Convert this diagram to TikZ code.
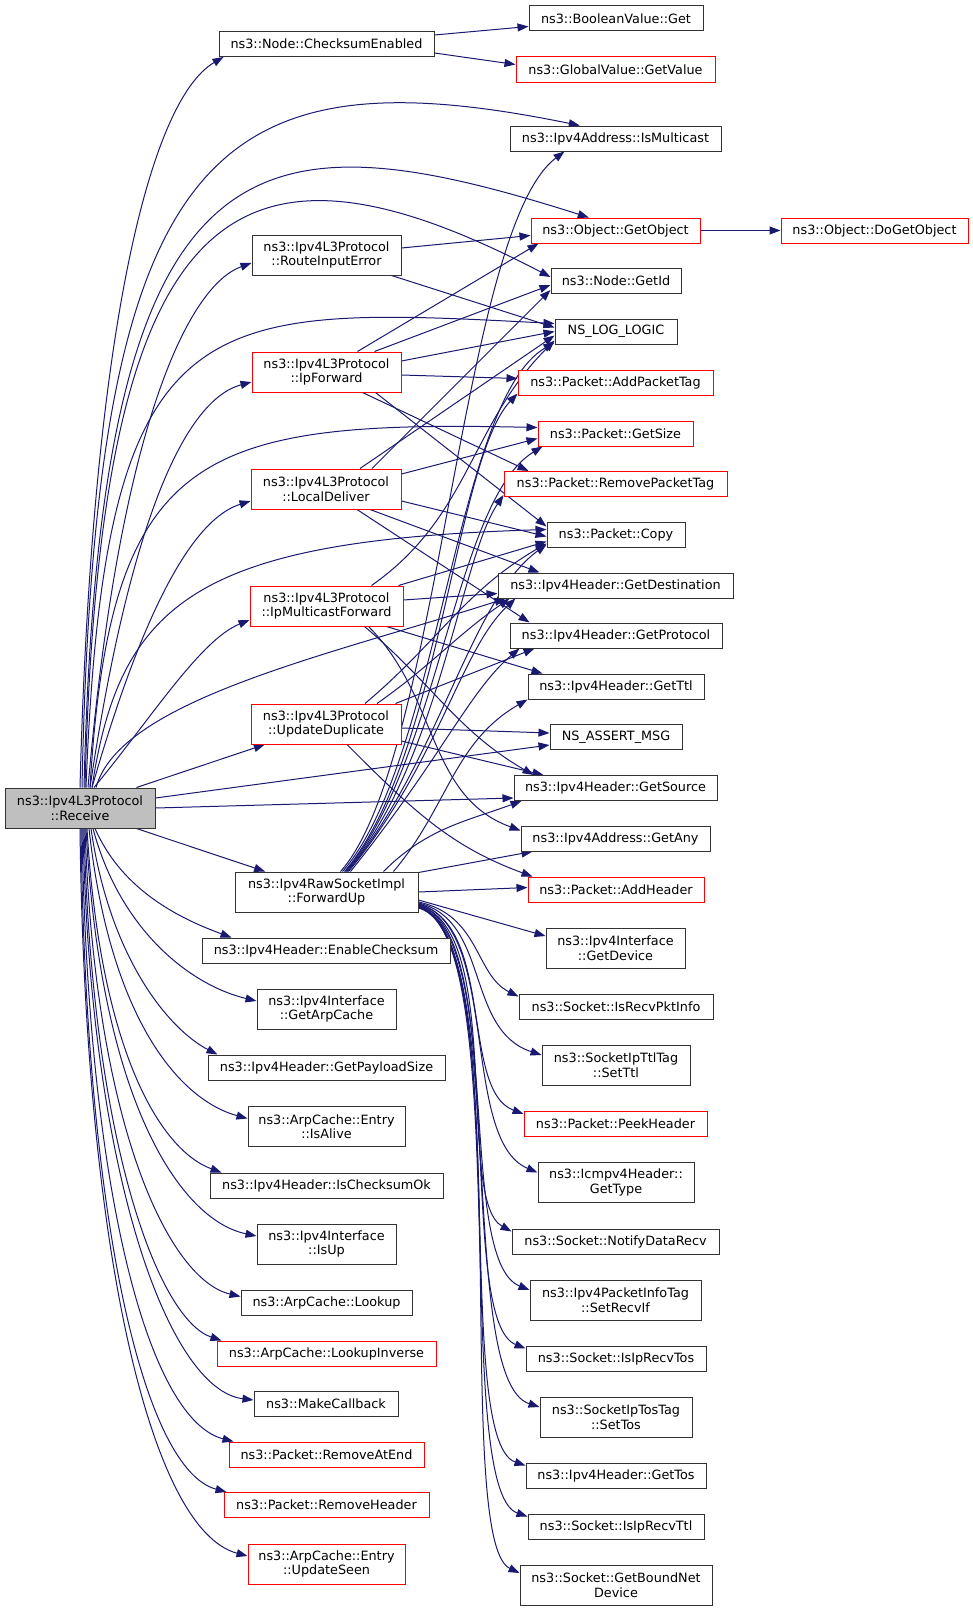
\documentclass[tikz,border=0pt]{standalone}
\usepackage{fontspec}
\setmainfont{DejaVu Sans}
\usetikzlibrary{arrows.meta, backgrounds}

\definecolor{callblue}{RGB}{25,25,112}

\tikzset{
	fn/.style={draw=black!80, line width=1pt, fill=white, align=center, inner sep=0pt, minimum height=25pt, font=\fontsize{12.8}{14.5}\selectfont},
	fnred/.style={fn, draw=red},
	fnroot/.style={fn, fill=black!25},
	tall/.style={minimum height=40pt},
	calls/.style={draw=callblue, line width=1pt, -{Triangle[length=11pt, width=8pt]}}
}

\begin{document}
\begin{tikzpicture}[x=1pt, y=-1pt]

	\useasboundingbox (0,0) rectangle (973,1611);

	\node[fnroot, tall, minimum width=150pt] (rcv) at (80,808) {ns3::Ipv4L3Protocol\\::Receive};

	\node[fn, minimum width=215pt] (cse) at (326.5,44) {ns3::Node::ChecksumEnabled};
	\node[fn, tall, minimum width=149pt] (rie) at (326.5,255) {ns3::Ipv4L3Protocol\\::RouteInputError};
	\node[fnred, tall, minimum width=149pt] (ipf) at (326.5,372) {ns3::Ipv4L3Protocol\\::IpForward};
	\node[fnred, tall, minimum width=150pt] (ldl) at (326,489) {ns3::Ipv4L3Protocol\\::LocalDeliver};
	\node[fnred, tall, minimum width=153pt] (imf) at (326.5,606) {ns3::Ipv4L3Protocol\\::IpMulticastForward};
	\node[fnred, tall, minimum width=150pt] (upd) at (326,724) {ns3::Ipv4L3Protocol\\::UpdateDuplicate};
	\node[fn, tall, minimum width=183pt] (fwu) at (326.5,892) {ns3::Ipv4RawSocketImpl\\::ForwardUp};
	\node[fn, minimum width=248pt] (ecs) at (326,950.5) {ns3::Ipv4Header::EnableChecksum};
	\node[fn, tall, minimum width=139pt] (gac) at (326.5,1009) {ns3::Ipv4Interface\\::GetArpCache};
	\node[fn, minimum width=237pt] (gps) at (326.5,1067.5) {ns3::Ipv4Header::GetPayloadSize};
	\node[fn, tall, minimum width=157pt] (ial) at (326.5,1126.5) {ns3::ArpCache::Entry\\::IsAlive};
	\node[fn, minimum width=233pt] (ico) at (326.5,1185.5) {ns3::Ipv4Header::IsChecksumOk};
	\node[fn, tall, minimum width=139pt] (iup) at (326.5,1244) {ns3::Ipv4Interface\\::IsUp};
	\node[fn, minimum width=171pt] (lku) at (326.5,1302.5) {ns3::ArpCache::Lookup};
	\node[fnred, minimum width=219pt] (lki) at (326.5,1353.5) {ns3::ArpCache::LookupInverse};
	\node[fn, minimum width=144pt] (mcb) at (326,1404) {ns3::MakeCallback};
	\node[fnred, minimum width=195pt] (rae) at (326.5,1454.5) {ns3::Packet::RemoveAtEnd};
	\node[fnred, minimum width=205pt] (rhd) at (326.5,1505) {ns3::Packet::RemoveHeader};
	\node[fnred, tall, minimum width=157pt] (ups) at (326.5,1564) {ns3::ArpCache::Entry\\::UpdateSeen};

	\node[fn, minimum width=174pt] (bvg) at (616,18.5) {ns3::BooleanValue::Get};
	\node[fnred, minimum width=199pt] (gvv) at (615.5,69.5) {ns3::GlobalValue::GetValue};
	\node[fn, minimum width=211pt] (ism) at (615.5,138.5) {ns3::Ipv4Address::IsMulticast};
	\node[fnred, minimum width=169pt] (gob) at (615.5,230.5) {ns3::Object::GetObject};
	\node[fnred, minimum width=187pt] (dgo) at (874.5,230.5) {ns3::Object::DoGetObject};
	\node[fn, minimum width=130pt] (gid) at (616,281) {ns3::Node::GetId};
	\node[fn, minimum width=122pt] (nll) at (616,331.5) {NS\_LOG\_LOGIC};
	\node[fnred, minimum width=195pt] (apt) at (615.5,382.5) {ns3::Packet::AddPacketTag};
	\node[fnred, minimum width=155pt] (gsz) at (615.5,433.5) {ns3::Packet::GetSize};
	\node[fnred, minimum width=223pt] (rpt) at (615.5,484) {ns3::Packet::RemovePacketTag};
	\node[fn, minimum width=138pt] (cpy) at (616,534.5) {ns3::Packet::Copy};
	\node[fn, minimum width=235pt] (gds) at (615.5,585.5) {ns3::Ipv4Header::GetDestination};
	\node[fn, minimum width=212pt] (gpr) at (616,635.5) {ns3::Ipv4Header::GetProtocol};
	\node[fn, minimum width=176pt] (gtl) at (616,686.5) {ns3::Ipv4Header::GetTtl};
	\node[fn, minimum width=132pt] (asm) at (616,737) {NS\_ASSERT\_MSG};
	\node[fn, minimum width=203pt] (gsr) at (615.5,788) {ns3::Ipv4Header::GetSource};
	\node[fn, minimum width=189pt] (gan) at (615.5,838.5) {ns3::Ipv4Address::GetAny};
	\node[fnred, minimum width=176pt] (ahd) at (616,889.5) {ns3::Packet::AddHeader};
	\node[fn, tall, minimum width=139pt] (gdv) at (615.5,948) {ns3::Ipv4Interface\\::GetDevice};
	\node[fn, minimum width=194pt] (irp) at (616,1006.5) {ns3::Socket::IsRecvPktInfo};
	\node[fn, tall, minimum width=148pt] (stl) at (616,1065) {ns3::SocketIpTtlTag\\::SetTtl};
	\node[fnred, minimum width=183pt] (phd) at (615.5,1124) {ns3::Packet::PeekHeader};
	\node[fn, tall, minimum width=156pt] (gty) at (616,1182.5) {ns3::Icmpv4Header::\\GetType};
	\node[fn, minimum width=207pt] (ndr) at (615.5,1241.5) {ns3::Socket::NotifyDataRecv};
	\node[fn, tall, minimum width=171pt] (sri) at (615.5,1300) {ns3::Ipv4PacketInfoTag\\::SetRecvIf};
	\node[fn, minimum width=180pt] (irt) at (616,1358.5) {ns3::Socket::IsIpRecvTos};
	\node[fn, tall, minimum width=152pt] (sts) at (616,1417) {ns3::SocketIpTosTag\\::SetTos};
	\node[fn, minimum width=180pt] (gts) at (616,1475.5) {ns3::Ipv4Header::GetTos};
	\node[fn, minimum width=176pt] (irl) at (616,1526.5) {ns3::Socket::IsIpRecvTtl};
	\node[fn, tall, minimum width=192pt] (gbn) at (616,1585) {ns3::Socket::GetBoundNet\\Device};

	\begin{scope}[on background layer]

	\draw[calls] (rcv.north) .. controls (92,330) and (150,100) .. ([xshift=5pt]cse.south west);
	\draw[calls] ([xshift=2pt]rcv.north) .. controls (95,150) and (210,50) .. (ism.160);
	\draw[calls] ([xshift=4pt]rcv.north) .. controls (100,130) and (250,110) .. (gob.154);
	\draw[calls] ([xshift=5pt]rcv.north) .. controls (100,200) and (230,110) .. ([yshift=4pt]gid.west);
	\draw[calls] ([xshift=6pt]rcv.north) .. controls (105,300) and (200,305) .. ([yshift=8pt]nll.west);
	\draw[calls] ([xshift=8pt]rcv.north) .. controls (120,420) and (190,285) .. ([yshift=-8pt]rie.west);
	\draw[calls] ([xshift=10pt]rcv.north) .. controls (130,520) and (185,400) .. ([yshift=-10pt]ipf.west);
	\draw[calls] ([xshift=10pt]rcv.north) .. controls (110,450) and (200,420) .. ([yshift=6pt]gsz.west);
	\draw[calls] ([xshift=12pt]rcv.north) .. controls (140,620) and (190,520) .. ([yshift=-12pt]ldl.west);
	\draw[calls] ([xshift=12pt]rcv.north) .. controls (120,600) and (200,540) .. ([yshift=5pt]cpy.west);
	\draw[calls] ([xshift=14pt]rcv.north) .. controls (150,720) and (200,640) .. ([yshift=-14pt]imf.west);
	\draw[calls] ([xshift=16pt]rcv.north) .. controls (120,700) and (330,655) .. ([xshift=8pt]gds.south west);
	\draw[calls] ([xshift=-19pt]rcv.north east) -- (upd);
	\draw[calls] ([yshift=10pt]rcv.east) -- ([yshift=-8pt]asm.west);
	\draw[calls] (rcv.east) -- ([yshift=-10pt]gsr.west);
	\draw[calls] ([xshift=-19pt]rcv.south east) -- (fwu);

	\draw[calls] ([xshift=15pt]rcv.south) .. controls (120,885) and (170,915) .. ([xshift=30pt]ecs.north west);
	\draw[calls] ([xshift=13pt]rcv.south) .. controls (120,930) and (190,985) .. ([yshift=8pt]gac.west);
	\draw[calls] ([xshift=11pt]rcv.south) .. controls (110,960) and (170,1030) .. ([xshift=10pt]gps.north west);
	\draw[calls] ([xshift=9pt]rcv.south) .. controls (110,1020) and (180,1100) .. ([yshift=8pt]ial.west);
	\draw[calls] ([xshift=7pt]rcv.south) .. controls (100,1050) and (160,1150) .. ([xshift=12pt]ico.north west);
	\draw[calls] ([xshift=6pt]rcv.south) .. controls (100,1100) and (180,1220) .. ([yshift=8pt]iup.west);
	\draw[calls] ([xshift=5pt]rcv.south) .. controls (95,1130) and (170,1280) .. ([yshift=6pt]lku.west);
	\draw[calls] ([xshift=4pt]rcv.south) .. controls (92,1150) and (160,1320) .. ([xshift=5pt]lki.north west);
	\draw[calls] ([xshift=3pt]rcv.south) .. controls (90,1180) and (170,1390) .. ([yshift=4pt]mcb.west);
	\draw[calls] ([xshift=2pt]rcv.south) .. controls (88,1200) and (150,1420) .. ([xshift=5pt]rae.north west);
	\draw[calls] ([xshift=1pt]rcv.south) .. controls (86,1230) and (145,1470) .. ([xshift=3pt]rhd.north west);
	\draw[calls] (rcv.south) .. controls (85,1250) and (150,1530) .. ([yshift=8pt]ups.west);

	\draw[calls] ([yshift=9pt]cse.east) -- ([yshift=-8pt]bvg.west);
	\draw[calls] ([yshift=-9pt]cse.east) -- ([yshift=5pt]gvv.west);
	\draw[calls] (gob.east) -- (dgo.west);

	\draw[calls] ([yshift=7pt]rie.east) -- ([yshift=-5pt]gob.west);
	\draw[calls] ([xshift=-10pt]rie.south east) -- ([yshift=4pt]nll.west);

	\draw[calls] ([xshift=31pt]ipf.north) -- ([xshift=8pt]gob.south west);
	\draw[calls] ([xshift=48pt]ipf.north) -- ([yshift=-4pt]gid.west);
	\draw[calls] ([yshift=11pt]ipf.east) -- (nll.west);
	\draw[calls] ([yshift=-3pt]ipf.east) -- ([yshift=4pt]apt.west);
	\draw[calls] ([xshift=36pt]ipf.south) -- ([xshift=25pt]rpt.north west);
	\draw[calls] ([xshift=49pt]ipf.south) -- ([yshift=8pt]cpy.west);

	\draw[calls] ([xshift=34pt]ldl.north) -- ([yshift=-4pt]nll.west);
	\draw[calls] ([xshift=46pt]ldl.north) -- ([yshift=-9pt]gid.west);
	\draw[calls] ([yshift=15pt]ldl.east) -- ([yshift=-5pt]gsz.west);
	\draw[calls] ([yshift=-12pt]ldl.east) -- ([yshift=-2pt]cpy.west);
	\draw[calls] ([xshift=44pt]ldl.south) -- ([xshift=42pt]gds.north west);
	\draw[calls] ([xshift=31pt]ldl.south) -- ([xshift=20pt]gpr.north west);

	\draw[calls] ([xshift=45pt]imf.north) to[out=35, in=225] ([yshift=-9pt]nll.west);
	\draw[calls] ([xshift=-5pt]imf.north east) -- ([yshift=-7pt]cpy.west);
	\draw[calls] ([yshift=6pt]imf.east) -- ([yshift=-8pt]gds.west);
	\draw[calls] ([xshift=60pt]imf.south) -- ([xshift=15pt]gtl.north west);
	\draw[calls] ([xshift=38pt]imf.south) to[out=-40, in=150] ([xshift=20pt]gsr.north west);
	\draw[calls] ([xshift=42pt]imf.south) to[out=-45, in=160] ([yshift=8pt]gan.west);

	\draw[calls] ([xshift=39pt]upd.north) to[out=40, in=210] ([yshift=-9pt]cpy.west);
	\draw[calls] ([xshift=51pt]upd.north) to[out=35, in=215] ([xshift=12pt]gds.south west);
	\draw[calls] ([xshift=-6pt]upd.north east) -- ([xshift=25pt]gpr.south west);
	\draw[calls] ([yshift=-4pt]upd.east) -- ([yshift=4pt]asm.west);
	\draw[calls] ([yshift=-17pt]upd.east) -- ([xshift=30pt]gsr.north west);
	\draw[calls] ([xshift=21pt]upd.south) to[out=-45, in=160] ([xshift=5pt]ahd.north west);

	\draw[calls] ([xshift=14pt]fwu.north) .. controls (440,760) and (460,230) .. ([xshift=55pt]ism.south west);
	\draw[calls] ([xshift=16pt]fwu.north) .. controls (440,760) and (455,400) .. ([yshift=-11pt]nll.west);
	\draw[calls] ([xshift=18pt]fwu.north) .. controls (440,760) and (455,460) .. ([yshift=-11pt]apt.west);
	\draw[calls] ([xshift=19pt]fwu.north) .. controls (440,760) and (455,500) .. ([xshift=5pt]gsz.south west);
	\draw[calls] ([xshift=20pt]fwu.north) .. controls (440,760) and (460,560) .. ([yshift=-11pt]rpt.west);
	\draw[calls] ([xshift=21pt]fwu.north) .. controls (440,760) and (470,600) .. ([yshift=-10pt]cpy.west);
	\draw[calls] ([xshift=22pt]fwu.north) .. controls (440,760) and (460,650) .. ([xshift=18pt]gds.south west);
	\draw[calls] ([xshift=24pt]fwu.north) .. controls (440,760) and (470,690) .. ([xshift=10pt]gpr.south west);
	\draw[calls] ([xshift=-25pt]fwu.north east) to[out=50, in=210] (gtl.south west);
	\draw[calls] ([xshift=-35pt]fwu.north east) to[out=45, in=200] ([xshift=8pt]gsr.south west);
	\draw[calls] ([yshift=-1pt]fwu.north east) -- ([xshift=12pt]gan.south west);
	\draw[calls] (fwu.east) -- ([yshift=2pt]ahd.west);
	\draw[calls] ([yshift=-8pt]fwu.east) -- ([yshift=12pt]gdv.west);

	\draw[calls] ([yshift=-10pt]fwu.east) .. controls (480,915) and (475,975) .. ([yshift=10pt]irp.west);
	\draw[calls] ([yshift=-11pt]fwu.east) .. controls (490,920) and (465,1030) .. ([yshift=10pt]stl.west);
	\draw[calls] ([yshift=-12pt]fwu.east) .. controls (495,925) and (460,1090) .. ([yshift=10pt]phd.west);
	\draw[calls] ([yshift=-12pt]fwu.east) .. controls (500,925) and (460,1140) .. ([yshift=10pt]gty.west);
	\draw[calls] ([yshift=-13pt]fwu.east) .. controls (505,930) and (455,1200) .. ([yshift=10pt]ndr.west);
	\draw[calls] ([yshift=-13pt]fwu.east) .. controls (505,930) and (455,1260) .. ([yshift=10pt]sri.west);
	\draw[calls] ([yshift=-14pt]fwu.east) .. controls (510,935) and (455,1320) .. ([yshift=10pt]irt.west);
	\draw[calls] ([yshift=-14pt]fwu.east) .. controls (510,935) and (455,1380) .. ([yshift=10pt]sts.west);
	\draw[calls] ([yshift=-15pt]fwu.east) .. controls (515,935) and (450,1440) .. ([yshift=10pt]gts.west);
	\draw[calls] ([yshift=-15pt]fwu.east) .. controls (515,935) and (450,1490) .. ([yshift=10pt]irl.west);
	\draw[calls] ([yshift=-16pt]fwu.east) .. controls (520,935) and (450,1540) .. ([yshift=12pt]gbn.west);

	\end{scope}

\end{tikzpicture}
\end{document}
